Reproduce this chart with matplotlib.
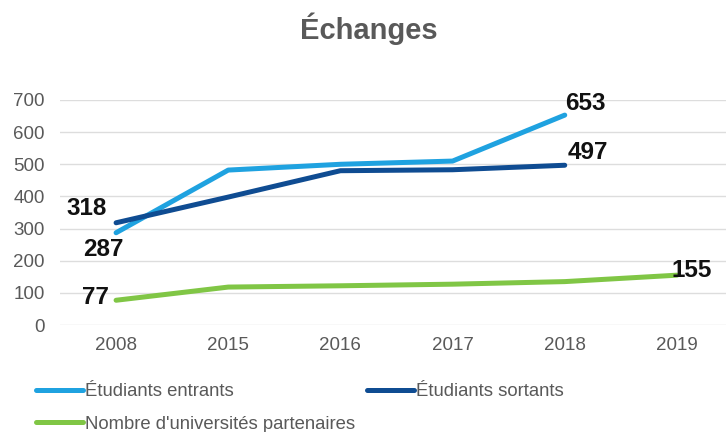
import matplotlib
matplotlib.use("Agg")
import matplotlib.pyplot as plt

plt.rcParams['font.family'] = ['Liberation Sans', 'DejaVu Sans']

years = ["2008", "2015", "2016", "2017", "2018", "2019"]
entrants = [287, 482, 500, 510, 653]
sortants = [318, 398, 480, 483, 497]
partenaires = [77, 118, 122, 127, 135, 155]

series_names = ["Étudiants entrants", "Étudiants sortants",
                "Nombre d'universités partenaires"]
yticks = [0, 100, 200, 300, 400, 500, 600, 700]

c_in = "#1FA2E0"
c_out = "#0F4C92"
c_part = "#80C645"
grey = "#595959"

W, H = 726, 432
fig = plt.figure(figsize=(W / 100, H / 100), dpi=100)
ax = fig.add_axes([60 / W, 1 - 325 / H, 673 / W, 225 / H])

x_in = list(range(len(entrants)))
x_out = list(range(len(sortants)))
x_part = list(range(len(partenaires)))

lw = 3.6
l1, = ax.plot(x_in, entrants, color=c_in, lw=lw, solid_capstyle='round',
              solid_joinstyle='round', label=series_names[0], zorder=3)
l2, = ax.plot(x_out, sortants, color=c_out, lw=lw, solid_capstyle='round',
              solid_joinstyle='round', label=series_names[1], zorder=4)
l3, = ax.plot(x_part, partenaires, color=c_part, lw=lw, solid_capstyle='round',
              solid_joinstyle='round', label=series_names[2], zorder=3)

ax.set_xlim(-0.5, len(years) - 0.5)
ax.set_ylim(0, 700)
ax.set_xticks(range(len(years)))
ax.set_xticklabels(years)
ax.set_yticks(yticks)
ax.grid(axis='y', color="#DDDDDD", lw=1.0)
ax.set_axisbelow(True)
for s in ax.spines.values():
    s.set_visible(False)
ax.tick_params(axis='both', length=0, labelsize=13.5, labelcolor=grey)
ax.tick_params(axis='y', pad=11)
ax.tick_params(axis='x', pad=9)

# value labels at the first and last point of each series (offsets in px)
px = 0.72
lab = dict(fontsize=17.5, fontweight='bold', color='#111111',
           ha='center', va='center', textcoords='offset points',
           annotation_clip=False, zorder=5)
ax.annotate(str(sortants[0]), (x_out[0], sortants[0]), xytext=(-29 * px, 14 * px), **lab)
ax.annotate(str(entrants[0]), (x_in[0], entrants[0]), xytext=(-13 * px, -17 * px), **lab)
ax.annotate(str(partenaires[0]), (x_part[0], partenaires[0]), xytext=(-21 * px, 3 * px), **lab)
ax.annotate(str(entrants[-1]), (x_in[-1], entrants[-1]), xytext=(21 * px, 12 * px), **lab)
ax.annotate(str(sortants[-1]), (x_out[-1], sortants[-1]), xytext=(23 * px, 13 * px), **lab)
ax.annotate(str(partenaires[-1]), (x_part[-1], partenaires[-1]), xytext=(15 * px, 5 * px), **lab)

fig.text(369 / W, 1 - 29 / H, "Échanges", fontsize=21, fontweight='bold',
         color=grey, ha='center', va='center')

leg = fig.legend([l1, l3, l2], [series_names[0], series_names[2], series_names[1]],
                 ncol=2, loc='upper left', bbox_to_anchor=(36 / W, 1 - 383 / H),
                 frameon=False, fontsize=13.3, handlelength=2.55,
                 handletextpad=0.12, columnspacing=0.6, labelspacing=0.85,
                 borderpad=0, borderaxespad=0)
for t in leg.get_texts():
    t.set_color(grey)

fig.savefig("out.png", dpi=100)
